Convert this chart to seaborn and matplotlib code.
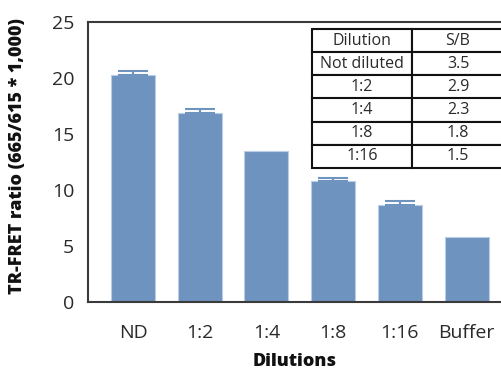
import matplotlib
matplotlib.use("Agg")
import matplotlib.pyplot as plt
import seaborn as sns
import pandas as pd
import numpy as np

# -- data
dilutions = ["ND", "1:2", "1:4", "1:8", "1:16", "Buffer"]
ratio = [20.3, 16.85, 13.5, 10.8, 8.7, 5.8]
ratio_err = [0.3, 0.35, 0.0, 0.25, 0.3, 0.0]

table_cols = ["Dilution", "S/B"]
table_dil = ["Not diluted", "1:2", "1:4", "1:8", "1:16"]
table_sb = ["3.5", "2.9", "2.3", "1.8", "1.5"]

bar_color = "#6e93bf"
ink = "#2a2a2a"

sns.set_style("white")
plt.rcParams["font.family"] = ["Open Sans", "DejaVu Sans"]

df = pd.DataFrame({"Dilution": dilutions, "Ratio": ratio})

fig = plt.figure(figsize=(5.02, 3.72), dpi=100)
ax = fig.add_axes([88 / 502, 70 / 372, 414 / 502, 280 / 372])

sns.barplot(data=df, x="Dilution", y="Ratio", color=bar_color, saturation=1,
            width=0.66, edgecolor="#b9cde4", linewidth=0.8, ax=ax, errorbar=None)

# upper error bars only where there is an error
x = np.arange(len(dilutions))
err = np.array(ratio_err)
has_err = err > 0
ax.errorbar(x[has_err], np.array(ratio)[has_err],
            yerr=[np.zeros(has_err.sum()), err[has_err]], fmt="none",
            ecolor=bar_color, elinewidth=1.5, capsize=11, capthick=1.5)

ax.set_xlim(-0.675, 5.53)
ax.set_ylim(0, 25)
ax.set_yticks([0, 5, 10, 15, 20, 25])

for side in ["left", "bottom", "top"]:
    ax.spines[side].set_color("#3a3a3a")
    ax.spines[side].set_linewidth(1.5)
ax.spines["right"].set_visible(False)

ax.tick_params(axis="both", direction="out", length=6, width=1.5,
               color="#3a3a3a", labelsize=14, labelcolor=ink, pad=4)
ax.tick_params(axis="x", pad=10)

ax.set_xlabel("Dilutions", fontsize=13, fontweight="heavy", color="#111", labelpad=8)
ax.set_ylabel("TR-FRET ratio (665/615 * 1,000)", fontsize=13, fontweight="heavy",
              color="#111")
ax.yaxis.set_label_coords(-0.15, 0.52)

# -- S/B table
rows = [[d, s] for d, s in zip(table_dil, table_sb)]
tbl = ax.table(cellText=rows, colLabels=table_cols, cellLoc="center",
               bbox=[224 / 414, 134 / 280, 192 / 414, 139 / 280],
               colWidths=[100 / 192, 92 / 192])
tbl.auto_set_font_size(False)
for (r, c), cell in tbl.get_celld().items():
    cell.set_edgecolor("#111")
    cell.set_linewidth(1.5)
    cell.set_facecolor("white")
    cell.get_text().set_fontsize(11.5)
    cell.get_text().set_color(ink)

fig.savefig("out.png", dpi=100)
